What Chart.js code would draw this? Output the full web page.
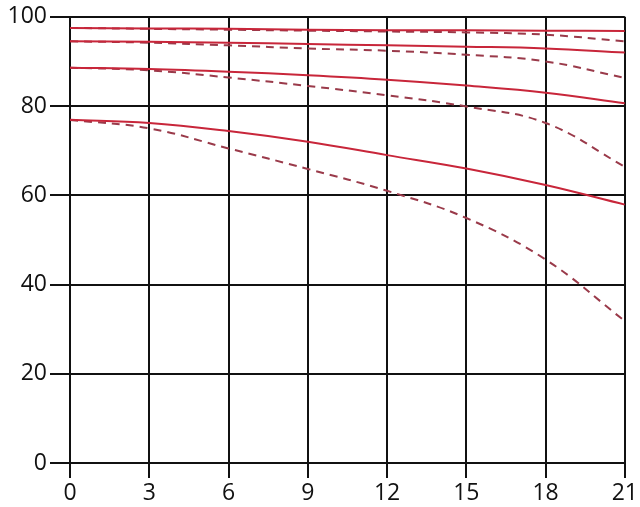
<!DOCTYPE html>
<html>
<head>
<meta charset="utf-8">
<script src="https://cdn.jsdelivr.net/npm/chart.js@4"></script>
<style>
  html, body { margin: 0; padding: 0; background: #fff; }
  #wrap { width: 640px; height: 507px; }
</style>
</head>
<body>
<div id="wrap"><canvas id="mtf" width="640" height="507"></canvas></div>
<script>
// image height (mm) and contrast values
const xs = [0, 3, 6, 9, 12, 15, 18, 21];
const yTicks = [0, 20, 40, 60, 80, 100];

const s1Solid  = [97.5, 97.4, 97.3, 97.1, 97.0, 97.0, 96.9, 96.8];
const s1Dashed = [97.5, 97.3, 97.1, 96.9, 96.7, 96.5, 96.0, 94.5];
const s2Solid  = [94.5, 94.4, 94.2, 93.9, 93.6, 93.3, 92.9, 92.0];
const s2Dashed = [94.5, 94.2, 93.6, 92.9, 92.4, 91.5, 90.0, 86.3];
const s3Solid  = [88.6, 88.3, 87.7, 86.9, 85.9, 84.6, 83.0, 80.6];
const s3Dashed = [88.6, 88.0, 86.4, 84.5, 82.4, 79.9, 76.2, 66.4];
const s4Solid  = [76.9, 76.2, 74.4, 72.0, 69.0, 66.0, 62.3, 57.9];
const s4Dashed = [76.9, 75.0, 70.5, 65.9, 61.0, 54.9, 45.6, 31.8];

const solidColor = '#c8263a';
const dashColor = '#9a3a4a';

function pts(vals) {
    return vals.map((v, i) => ({ x: xs[i], y: v }));
}

function line(vals, dashed) {
    return {
        data: pts(vals),
        borderColor: dashed ? dashColor : solidColor,
        borderWidth: 2,
        borderDash: dashed ? [8, 6] : [],
        pointRadius: 0,
        fill: false,
        tension: 0.4
    };
}

const tickFont = { family: 'Open Sans', size: 23 };

new Chart(document.getElementById('mtf'), {
    type: 'line',
    data: {
        datasets: [
            line(s1Solid, false), line(s1Dashed, true),
            line(s2Solid, false), line(s2Dashed, true),
            line(s3Solid, false), line(s3Dashed, true),
            line(s4Solid, false), line(s4Dashed, true)
        ]
    },
    options: {
        responsive: false,
        animation: false,
        layout: { padding: { top: 15, right: 15, left: 0, bottom: 0 } },
        plugins: { legend: { display: false }, tooltip: { enabled: false } },
        scales: {
            x: {
                type: 'linear',
                min: 0, max: 21,
                afterBuildTicks: s => { s.ticks = xs.map(v => ({ value: v })); },
                afterFit: s => { s.height = 44; },
                grid: { color: '#111', lineWidth: 2, tickLength: 15 },
                border: { color: '#111', width: 2 },
                ticks: { color: '#111', font: tickFont, padding: 2, maxRotation: 0 }
            },
            y: {
                min: 0, max: 100,
                afterBuildTicks: s => { s.ticks = yTicks.map(v => ({ value: v })); },
                afterFit: s => { s.width = 70; },
                grid: { color: '#111', lineWidth: 2, tickLength: 20 },
                border: { color: '#111', width: 2 },
                ticks: { color: '#111', font: tickFont, padding: 3 }
            }
        }
    }
});
</script>
</body>
</html>
